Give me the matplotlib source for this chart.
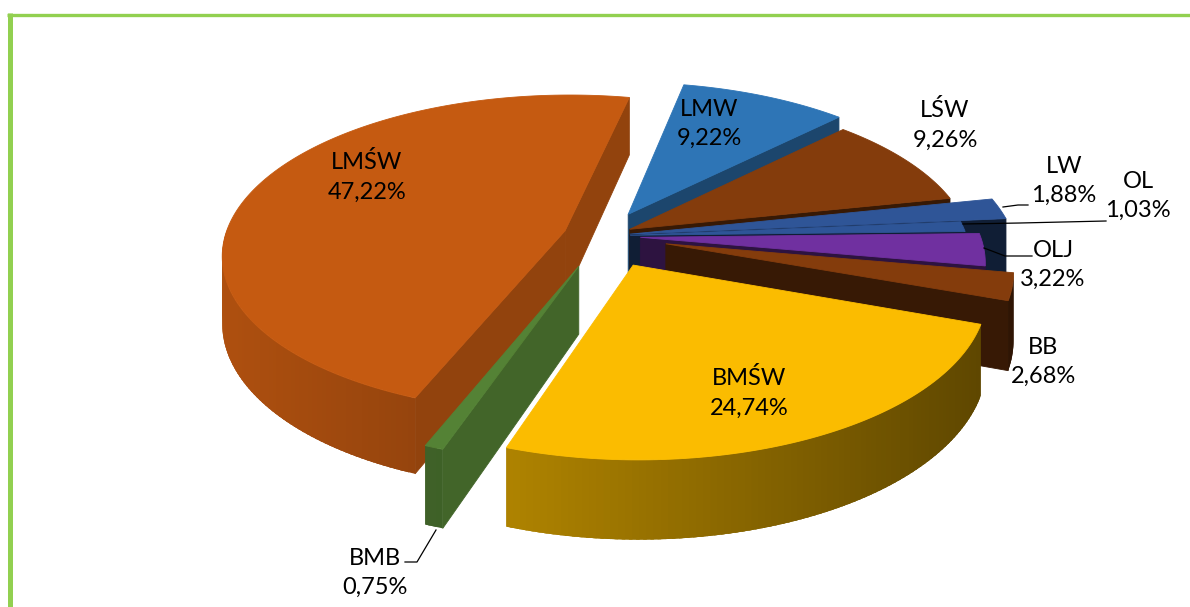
import numpy as np
import matplotlib
matplotlib.use("Agg")
import matplotlib.pyplot as plt
from matplotlib.colors import to_rgb

labels = ["LMW", "LŚW", "LW", "OL", "OLJ", "BB", "BMŚW", "BMB", "LMŚW"]
values = [9.22, 9.26, 1.88, 1.03, 3.22, 2.68, 24.74, 0.75, 47.22]

explode = [0.16, 0.09, 0.08, 0.08, 0.11, 0.19, 0.20, 0.20, 0.117]
radius = [1.0, 1.0, 1.13, 0.99, 1.0, 1.0, 1.0, 1.0, 1.0]
colors = ["#2E75B6", "#843C0C", "#2F5597", "#2E5597", "#7030A0",
          "#843C0C", "#FBBC00", "#548235", "#C55A11"]
wall_shade = [0.6, 0.42, 0.35, 0.35, 0.4, 0.42, 0.5, 0.78, 0.74]
draw_order = [0, 1, 2, 3, 4, 5, 8, 7, 6]

label_xy = [(709, 124), (945, 125), (1064, 181), (1138, 196), (1053, 265),
            (1043, 362), (749, 393), (375, 573), (367, 177)]

# pie centre and scale, in pixels
CX, CY = 603, 236
RX, RY = 340, 157
PERSP = 0.146
DEPTH = 66
START = 11.6
FRAME = "#92D050"


def project(px, py, drop=0.0):
    s = 1 / (1 + PERSP * py)
    return CX + RX * px * s, CY - RY * py * s + DEPTH * s * drop


def wedge_points(ox, oy, r, t):
    return ox + r * np.sin(np.radians(t)), oy + r * np.cos(np.radians(t))


def shade(color, f):
    return tuple(c * f for c in to_rgb(color))


def poly(ax, xs, ys, color, lw=0.6):
    ax.fill(xs, ys, color=color, lw=lw, ec=color)


def radial_wall(ax, ox, oy, r, t, color):
    px, py = wedge_points(ox, oy, r, t)
    x0, y0 = project(ox, oy)
    x1, y1 = project(px, py)
    x2, y2 = project(px, py, 1)
    x3, y3 = project(ox, oy, 1)
    poly(ax, [x0, x1, x2, x3], [y0, y1, y2, y3], color)


fig = plt.figure(figsize=(11.9, 6.07), dpi=100)
ax = fig.add_axes([0, 0, 1, 1])
ax.set_xlim(0, 1190)
ax.set_ylim(607, 0)
ax.axis("off")

starts = START + np.cumsum([0] + values[:-1]) * 3.6
ends = starts + np.array(values) * 3.6

for i in draw_order:
    a, b = starts[i], ends[i]
    mid = np.radians((a + b) / 2)
    ox, oy = explode[i] * np.sin(mid), explode[i] * np.cos(mid)
    r = radius[i]
    wall = shade(colors[i], wall_shade[i])

    # cut faces first, only the ones turned to the viewer
    if np.sin(np.radians(a)) < 0:
        radial_wall(ax, ox, oy, r, a, wall)
    if np.sin(np.radians(b)) > 0:
        radial_wall(ax, ox, oy, r, b, wall)

    # outer wall, shaded from left to right, quads overlap to hide seams
    ts = np.arange(a, b + 0.5, 1.0)
    for t0, t1 in zip(ts[:-1], ts[1:]):
        if np.cos(np.radians((t0 + t1) / 2)) >= 0:
            continue
        p0 = wedge_points(ox, oy, r, t0)
        p1 = wedge_points(ox, oy, r, min(t1 + 1.5, b))
        x0, y0 = project(*p0)
        x1, y1 = project(*p1)
        x2, y2 = project(*p1, 1)
        x3, y3 = project(*p0, 1)
        f = 0.88 - ((x0 + x1) / 2 - 230) * 0.00067
        poly(ax, [x0, x1, x2, x3], [y0, y1, y2, y3], shade(colors[i], f), lw=0)

    # top face
    ts = np.linspace(a, b, 200)
    px, py = wedge_points(ox, oy, r, ts)
    x, y = project(np.r_[ox, px], np.r_[oy, py])
    poly(ax, x, y, colors[i])

# leader lines
ax.plot([1003, 1018, 1028], [207, 205, 205], color="black", lw=0.9)
ax.plot([963, 1020, 1106], [224, 223, 221], color="black", lw=0.9)
ax.plot([984, 1005, 1032], [248, 256, 256], color="black", lw=0.9)
ax.plot([436, 417, 405], [530, 562, 562], color="black", lw=0.9)

for name, v, (tx, ty) in zip(labels, values, label_xy):
    txt = name + "\n" + f"{v:.2f}%".replace(".", ",")
    ax.text(tx, ty, txt, ha="center", va="center", fontsize=17,
            family="Lato", color="black", linespacing=1.5)

# green frame, top and left only
ax.plot([9.5, 9.5], [13, 607], color=FRAME, lw=3.6, solid_capstyle="butt")
ax.plot([7, 1190], [14.5, 14.5], color=FRAME, lw=2.4, solid_capstyle="butt")

fig.savefig("out.png", dpi=100)
